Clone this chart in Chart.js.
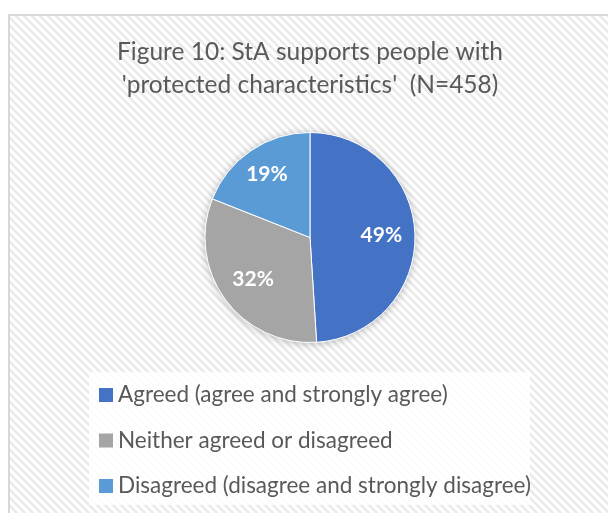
<!DOCTYPE html>
<html>
<head>
<meta charset="utf-8">
<script src="https://cdn.jsdelivr.net/npm/chart.js@4.4.1/dist/chart.umd.min.js"></script>
<style>
  html, body { margin: 0; padding: 0; background: #ffffff; }
  #wrap { width: 608px; height: 513px; position: relative; }
</style>
</head>
<body>
<div id="wrap"><canvas id="c" width="608" height="513"></canvas></div>
<script>
// ---- data ----
const titleLines = ["Figure 10: StA supports people with", "'protected characteristics'  (N=458)"];
const categories = [
  "Agreed (agree and strongly agree)",
  "Neither agreed or disagreed",
  "Disagreed (disagree and strongly disagree)"
];
const percentages = [49, 32, 19];

const FONT = "Lato, 'Open Sans', sans-serif";

const bgPlugin = {
  id: 'bg',
  beforeDraw(chart) {
    const ctx = chart.ctx;
    const W = chart.width, H = chart.height;
    ctx.save();
    ctx.fillStyle = '#ffffff';
    ctx.fillRect(0, 0, W, H);
    const tile = document.createElement('canvas');
    tile.width = 8; tile.height = 8;
    const t = tile.getContext('2d');
    t.fillStyle = '#ffffff';
    t.fillRect(0, 0, 8, 8);
    t.strokeStyle = '#eaeaea';
    t.lineWidth = 2.6;
    t.beginPath();
    t.moveTo(-2, -2); t.lineTo(10, 10);
    t.moveTo(-10, -2); t.lineTo(2, 10);
    t.moveTo(6, -2); t.lineTo(18, 10);
    t.stroke();
    const pat = ctx.createPattern(tile, 'repeat');
    ctx.fillStyle = pat;
    ctx.fillRect(9, 15, W - 9, H - 15);
    ctx.strokeStyle = '#d9d9d9';
    ctx.lineWidth = 2;
    ctx.beginPath();
    ctx.moveTo(9, H + 2);
    ctx.lineTo(9, 15);
    ctx.lineTo(W + 2, 15);
    ctx.stroke();
    // legend background
    ctx.fillStyle = 'rgba(255,255,255,0.85)';
    ctx.fillRect(89, 372, 441, 133);
    ctx.restore();
  }
};

const shadowPlugin = {
  id: 'pieShadow',
  beforeDatasetsDraw(chart) {
    const ctx = chart.ctx;
    const meta = chart.getDatasetMeta(0);
    const arc = meta.data[0];
    if (!arc) return;
    ctx.save();
    ctx.shadowColor = 'rgba(0,0,0,0.28)';
    ctx.shadowBlur = 9;
    ctx.shadowOffsetX = 0;
    ctx.shadowOffsetY = 1;
    ctx.fillStyle = '#ffffff';
    ctx.beginPath();
    ctx.arc(arc.x, arc.y, arc.outerRadius, 0, Math.PI * 2);
    ctx.fill();
    ctx.restore();
  }
};

const labelPlugin = {
  id: 'sliceLabels',
  afterDatasetsDraw(chart) {
    const ctx = chart.ctx;
    const meta = chart.getDatasetMeta(0);
    const ds = chart.data.datasets[0];
    const fr = [0.68, 0.67, 0.73];
    ctx.save();
    ctx.fillStyle = '#ffffff';
    ctx.font = "bold 21px " + FONT;
    ctx.textAlign = 'center';
    ctx.textBaseline = 'middle';
    meta.data.forEach((arc, i) => {
      const mid = (arc.startAngle + arc.endAngle) / 2;
      const r = arc.outerRadius * fr[i];
      ctx.fillText(ds.data[i] + '%', arc.x + Math.cos(mid) * r, arc.y + Math.sin(mid) * r);
    });
    ctx.restore();
  }
};

const legendPlugin = {
  id: 'vLegend',
  afterDraw(chart) {
    const ctx = chart.ctx;
    const ds = chart.data.datasets[0];
    ctx.save();
    ctx.font = "22.5px " + FONT;
    ctx.textBaseline = 'middle';
    ctx.textAlign = 'left';
    chart.data.labels.forEach((lab, i) => {
      const y = 395 + i * 45.5;
      ctx.fillStyle = ds.backgroundColor[i];
      ctx.fillRect(99, y - 7, 14, 14);
      ctx.fillStyle = '#595959';
      ctx.fillText(lab, 118, y);
    });
    ctx.restore();
  }
};

new Chart(document.getElementById('c'), {
  type: 'pie',
  data: {
    labels: categories,
    datasets: [{
      data: percentages,
      backgroundColor: ['#4472C4', '#A5A5A5', '#5B9BD5'],
      borderColor: '#ffffff',
      borderWidth: 1
    }]
  },
  options: {
    responsive: false,
    animation: false,
    events: [],
    layout: { padding: { left: 12, right: 0, top: 20, bottom: 170 } },
    plugins: {
      legend: { display: false },
      tooltip: { enabled: false },
      title: {
        display: true,
        text: titleLines,
        color: '#595959',
        font: { family: FONT, size: 24.5, weight: 'normal', lineHeight: '33px' },
        padding: { top: 16, bottom: 30 }
      }
    }
  },
  plugins: [bgPlugin, shadowPlugin, labelPlugin, legendPlugin]
});
</script>
</body>
</html>
